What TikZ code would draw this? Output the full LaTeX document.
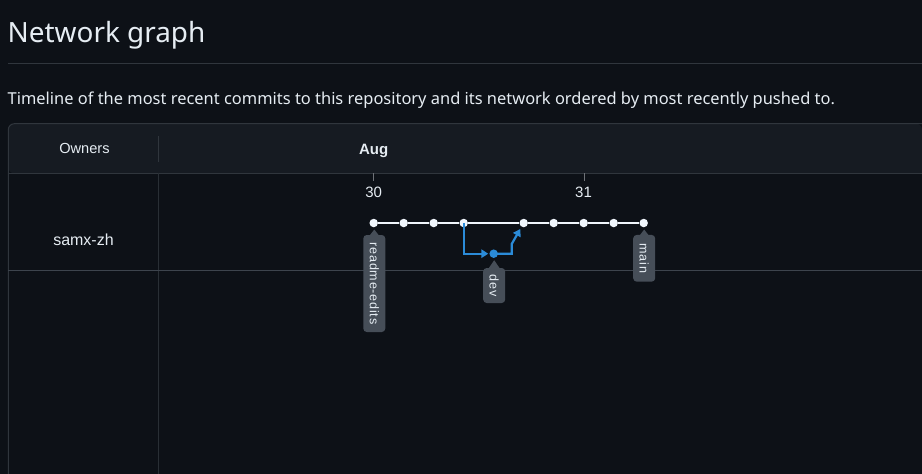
\documentclass[tikz,border=0pt]{standalone}
\usepackage{fontspec}
\setmainfont{Liberation Sans}
\newfontfamily\uifont{Noto Sans}
\newfontfamily\tagfont[LetterSpace=6]{Liberation Sans}
\usetikzlibrary{arrows.meta,calc,backgrounds}
\definecolor{bgc}{HTML}{0D1117}
\definecolor{headc}{HTML}{161B22}
\definecolor{linec}{HTML}{30363D}
\definecolor{rowc}{HTML}{3D444D}
\definecolor{txtc}{HTML}{E6EDF3}
\definecolor{dotc}{HTML}{F0F6FC}
\definecolor{bluec}{HTML}{2B8BD8}
\definecolor{tagc}{HTML}{464E58}
\tikzset{
  commit/.style={circle,fill=dotc,inner sep=0pt,minimum size=8.5pt},
  devdot/.style={circle,fill=bluec,inner sep=0pt,minimum size=8.5pt},
  trunk/.style={draw=dotc,line width=2.3pt},
  branch/.style={draw=bluec,line width=2.2pt},
  tag/.style={fill=tagc,rounded corners=3.5pt,rotate=-90,inner sep=0pt,
    minimum height=22pt,text=txtc,font=\tagfont\fontsize{12.6}{14}\selectfont},
  pointer/.style={fill=tagc},
  hdr/.style={text=txtc,inner sep=0pt},
}
\begin{document}
\begin{tikzpicture}[x=1pt,y=-1pt]
\useasboundingbox (0,0) rectangle (922,474);
\fill[bgc] (0,0) rectangle (922,474);
% title
\node[hdr,anchor=base west,font=\uifont\fontsize{27.9}{33}\selectfont] (title) at (7.5,42.7) {Network graph};
\draw[linec,line width=1pt] (8,63.3) -- (922,63.3);
\node[hdr,anchor=base west,font=\uifont\fontsize{16.44}{20}\selectfont] (sub) at (7.5,104.3) {Timeline of the most recent commits to this repository and its network ordered by most recently pushed to.};
% table
\fill[headc,rounded corners=6pt] (8.3,173.3) -- (8.3,123.7) -- (922,123.7) -- (922,173.3) -- cycle;
\fill[headc] (100,150) rectangle (922,173.3);
\draw[linec,line width=1pt,rounded corners=6pt] (922,123.7) -- (8.3,123.7) -- (8.3,474);
\draw[linec,line width=1pt] (8.3,173.3) -- (922,173.3);
\draw[linec,line width=1pt] (158.3,136) -- (158.3,161.7);
\draw[linec!80!bgc,line width=1pt] (158.3,173.3) -- (158.3,474);
\draw[rowc,line width=1.3pt] (8.3,270.7) -- (922,270.7);
% header texts
\node[hdr,anchor=base,font=\fontsize{14.6}{17}\selectfont] (owners) at (84.5,153.3) {Owners};
\node[hdr,anchor=base,font=\bfseries\fontsize{15}{18}\selectfont] (aug) at (373.7,154.3) {Aug};
\node[hdr,anchor=base,font=\fontsize{16}{19}\selectfont] (owner) at (83.5,245) {samx-zh};
% day ticks
\draw[linec!70!white,line width=1pt] (373.7,173.3) -- (373.7,180.5);
\draw[linec!70!white,line width=1pt] (584.7,173.3) -- (584.7,180.5);
\node[hdr,anchor=base,font=\fontsize{15}{18}\selectfont] (d30) at (373.7,197.3) {30};
\node[hdr,anchor=base,font=\fontsize{15}{18}\selectfont] (d31) at (583.5,197.3) {31};
% commits
\foreach \i/\x in {1/373.7,2/403.7,3/433.7,4/463.7,5/523.7,6/553.7,7/583.7,8/613.7,9/643.7}
  \node[commit] (c\i) at (\x,223) {};
\node[devdot] (dev) at (493.7,253.7) {};
\draw[trunk] (c1) -- (c2) -- (c3) -- (c4) -- (c5) -- (c6) -- (c7) -- (c8) -- (c9);
% branch
\draw[branch,-{Triangle[length=7pt,width=8.5pt]},shorten >=1pt] (c4.center) |- (dev.west);
\draw[branch,-{Triangle[length=7pt,width=8.5pt]},shorten >=2.5pt] (dev.center) -- ++(18,0) -- ++(0,-9.7) -- (c5);
% tags
\node[tag,minimum width=97pt] (treadme) at (374.3,283.5) {readme-edits};
\fill[pointer] ($(c1)+(-6,15)$) -- ($(c1)+(0.6,6.5)$) -- ($(c1)+(7.2,15)$) -- cycle;
\node[tag,minimum width=35pt] (tdev) at (494.2,285.5) {dev};
\fill[pointer] ($(dev)+(-6,16)$) -- ($(dev)+(0.5,6.5)$) -- ($(dev)+(7,16)$) -- cycle;
\node[tag,minimum width=46.7pt] (tmain) at (644.2,258.3) {main};
\fill[pointer] ($(c9)+(-6,15)$) -- ($(c9)+(0.5,6.5)$) -- ($(c9)+(7,15)$) -- cycle;
\end{tikzpicture}
\end{document}
